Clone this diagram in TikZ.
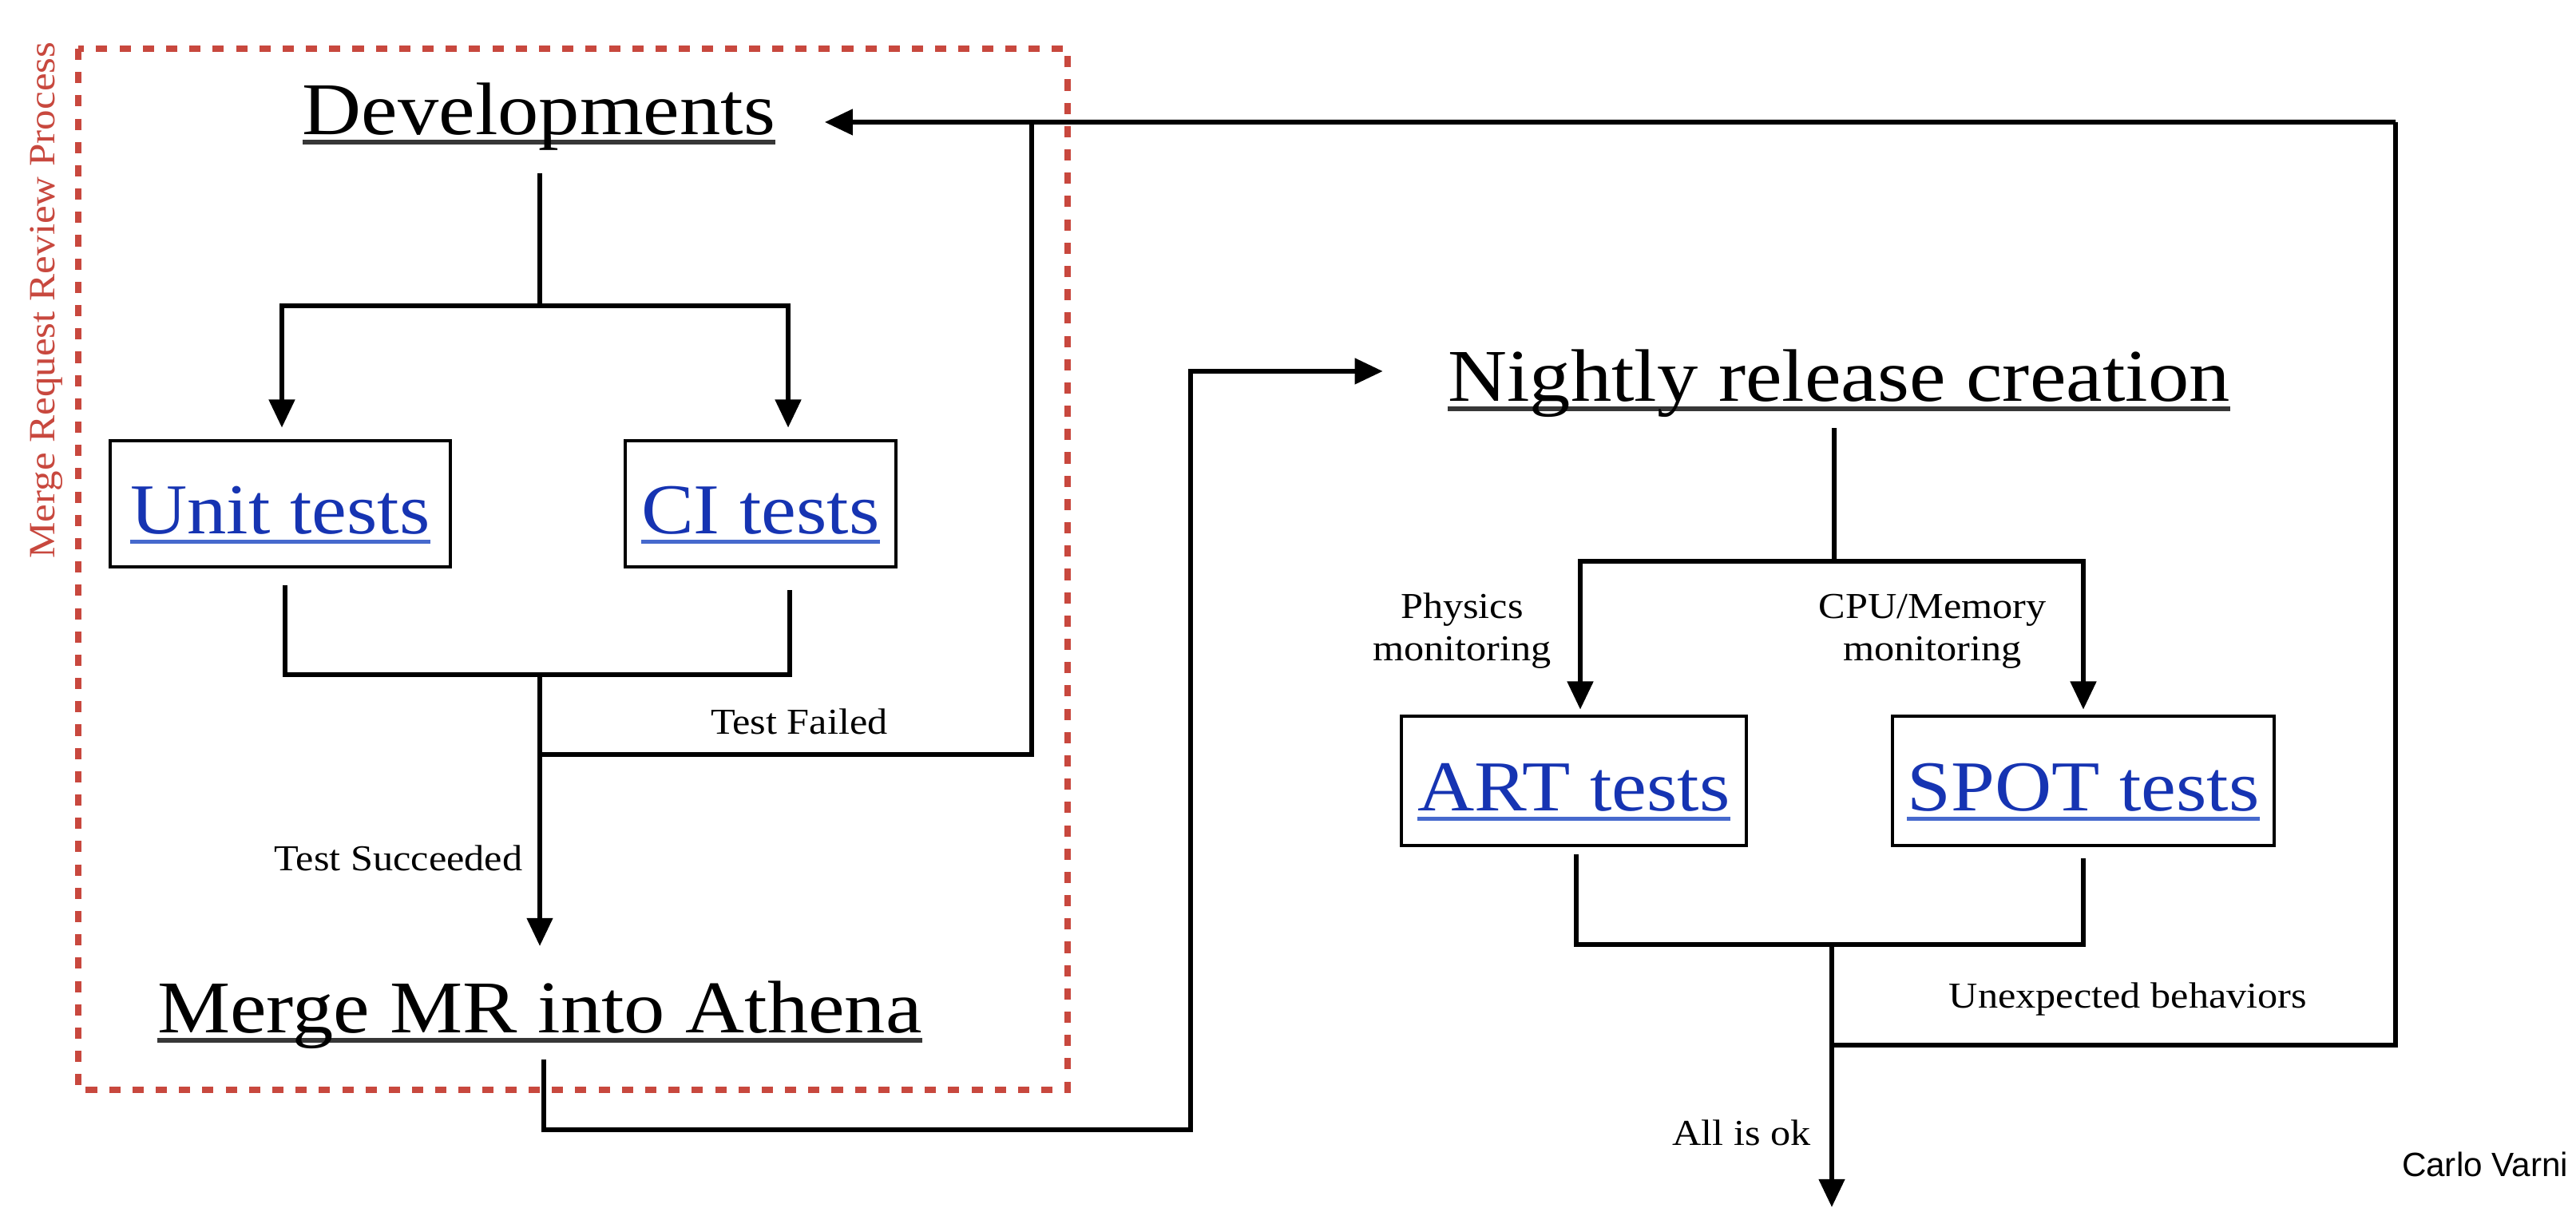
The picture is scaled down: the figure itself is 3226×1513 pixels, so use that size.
\documentclass[tikz,border=0pt]{standalone}
\usepackage{fontspec}
\setmainfont[FakeStretch=1.1]{Liberation Serif}
\newfontfamily\namefont{Liberation Sans}
\usetikzlibrary{arrows.meta}

\definecolor{reviewred}{RGB}{200,72,62}
\definecolor{linkblue}{RGB}{22,52,178}
\definecolor{linkline}{RGB}{70,105,205}
\definecolor{headline}{RGB}{55,55,55}

% text with a rule drawn under its baseline (crossing the descenders)
% #1 colour, #2 rule offset, #3 rule thickness, #4 text
\newcommand\ulword[4]{\setbox0\hbox{#4}\rlap{\color{#1}\rule[#2]{\wd0}{#3}}\box0}

\tikzset{
  conn/.style={line width=1.7pt, draw=black},
  arr/.style={conn, -{Triangle[length=10pt,width=9pt]}},
  title/.style={font=\fontsize{26.5}{30}\selectfont, anchor=base, inner sep=0pt},
  testbox/.style={draw, line width=1.3pt, font=\fontsize{25.5}{30}\selectfont,
    text height=24pt, text depth=2.4pt, inner sep=0pt},
  lbl/.style={font=\fontsize{13}{15.1}\selectfont, anchor=base, inner sep=0pt, align=center},
  review/.style={draw=reviewred, line width=2.4pt, dash pattern=on 4pt off 4.3pt},
}

\begin{document}
\begin{tikzpicture}[x=0.01cm, y=-0.01cm]
  \fill[white] (0,0) rectangle (3226,1513);
  \useasboundingbox (0,0) rectangle (3226,1513);

  % main stages
  \node[title] (dev) at (675,169) {\ulword{headline}{-3.4pt}{1.7pt}{Developments}};
  \node[title] (merge) at (676,1294) {\ulword{headline}{-3.4pt}{1.7pt}{Merge MR into Athena}};
  \node[title] (night) at (2303,503) {\ulword{headline}{-3.4pt}{1.7pt}{Nightly release creation}};

  % test boxes
  \node[testbox, minimum width=4.26cm, minimum height=1.58cm] (unit) at (351,631)
    {\ulword{linkline}{-3.5pt}{1.4pt}{\color{linkblue}Unit tests}};
  \node[testbox, minimum width=3.39cm, minimum height=1.58cm] (ci) at (952.5,631)
    {\ulword{linkline}{-3.5pt}{1.4pt}{\color{linkblue}CI tests}};
  \node[testbox, minimum width=4.32cm, minimum height=1.62cm] (art) at (1971,978)
    {\ulword{linkline}{-3.5pt}{1.4pt}{\color{linkblue}ART tests}};
  \node[testbox, minimum width=4.78cm, minimum height=1.62cm] (spot) at (2609,978)
    {\ulword{linkline}{-3.5pt}{1.4pt}{\color{linkblue}SPOT tests}};

  % labels (two-line labels are placed by the baseline of their last line)
  \node[lbl] (failed) at (1001,920) {Test Failed};
  \node[lbl] (succ) at (499,1091) {Test Succeeded};
  \node[lbl] (phys) at (1831,828) {Physics\\monitoring};
  \node[lbl] (cpu) at (2420,828) {CPU/Memory\\monitoring};
  \node[lbl] (unexp) at (2665,1263) {Unexpected behaviors};
  \node[lbl] (allok) at (2181,1435) {All is ok};
  \node[anchor=base, inner sep=0pt, font=\namefont\fontsize{12}{14}\selectfont] (author)
    at (3112,1473) {Carlo Varni};
  \node[rotate=90, anchor=base, inner sep=0pt, text=reviewred,
    font=\fontsize{13.2}{15}\selectfont] (mrlabel) at (68,376) {Merge Request Review Process};

  % junctions
  \coordinate (devsplit) at (676,383);
  \coordinate (unitjoin) at (676,845);
  \coordinate (failsplit) at (676,945);
  \coordinate (failtop) at (1292,153);
  \coordinate (looptop) at (3000,153);
  \coordinate (mergecorner) at (1491,1415);
  \coordinate (nightjoin) at (2297,703);
  \coordinate (artjoin) at (2294,1183);
  \coordinate (unexpsplit) at (2294,1309);
  \coordinate (okend) at (2294,1512);

  % merge request review
  \draw[conn] ([xshift=0.01cm,yshift=-0.48cm]dev.base) -- (devsplit);
  \draw[arr] (devsplit) -| ([xshift=0.02cm,yshift=0.14cm]unit.north);
  \draw[arr] (devsplit) -| ([xshift=0.345cm,yshift=0.14cm]ci.north);
  \draw[conn] ([xshift=0.06cm,yshift=-0.21cm]unit.south) |- (unitjoin)
    -| ([xshift=0.365cm,yshift=-0.27cm]ci.south);
  \draw[arr] (unitjoin) -- ([yshift=1.09cm]merge.base);
  \draw[conn] (failsplit) -| (failtop);
  \draw[arr] (looptop) -- ([xshift=0.61cm,yshift=0.16cm]dev.base east);

  % merge to nightly
  \draw[arr] ([xshift=0.05cm,yshift=-0.33cm]merge.base) |- (mergecorner)
    |- ([xshift=-0.81cm,yshift=0.38cm]night.base west);

  % nightly testing
  \draw[conn] ([xshift=-0.06cm,yshift=-0.33cm]night.base) -- (nightjoin);
  \draw[arr] (nightjoin) -| ([xshift=0.08cm,yshift=0.06cm]art.north);
  \draw[arr] (nightjoin) -| ([yshift=0.06cm]spot.north);
  \draw[conn] ([xshift=0.03cm,yshift=-0.09cm]art.south) |- (artjoin)
    -| ([yshift=-0.14cm]spot.south);
  \draw[arr] (artjoin) -- (okend);
  \draw[conn] (unexpsplit) -| (looptop);

  % review process frame
  \draw[review] (98,61) rectangle (1337,1365);
\end{tikzpicture}
\end{document}
